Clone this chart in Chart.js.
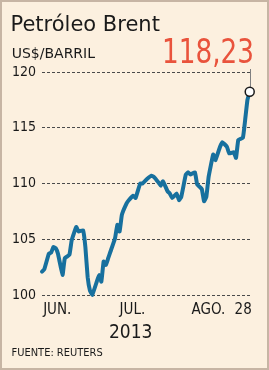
<!DOCTYPE html>
<html lang="es">
<head>
  <meta charset="UTF-8" />
  <title>Petróleo Brent</title>
  <script src="https://cdn.jsdelivr.net/npm/chart.js"></script>
  <style>
    body {
      margin: 0;
      background: #fcf0df;
    }

    .frame {
      position: relative;
      width: 269px;
      height: 370px;
      box-sizing: border-box;
      border: 2px solid #c7b5a4;
      background: #fcf0df;
      color: #1a1a1a;
      overflow: hidden;
    }

    .frame canvas {
      position: absolute;
      top: -2px;
      left: -2px;
    }

    .txt {
      position: absolute;
      line-height: 1;
      white-space: nowrap;
      margin: 0;
    }

    .title { font: 21px 'DejaVu Sans', sans-serif; top: 9.7px; left: 8.5px; }
    .unit { font: 14px 'DejaVu Sans', sans-serif; top: 42.7px; left: 9.7px; }
    .year { font: 19px 'DejaVu Sans Condensed', sans-serif; top: 317.9px; left: 107px; }
    .source { font: 11px 'DejaVu Sans Condensed', sans-serif; top: 343.7px; left: 9.5px; }
  </style>
</head>
<body>
  <div class="frame">
    <canvas id="brentChart" width="269" height="370"></canvas>
    <h1 class="txt title">Petróleo Brent</h1>
    <div class="txt unit">US$/BARRIL</div>
    <div class="txt year">2013</div>
    <div class="txt source">FUENTE: REUTERS</div>
  </div>

  <script>
    // days since 29 May 2013, and closing price (US$/barrel)
    const days = [0, 1, 3, 4, 5, 6, 7, 9, 10, 12, 13, 15, 16, 18, 19, 20, 21, 22, 24, 25,
                  26, 27, 28, 29, 30, 32, 33, 34, 35, 37, 38, 40, 41, 43, 44, 46, 48, 49, 51, 52,
                  53, 55, 56, 57, 59, 60, 61, 63, 64, 65, 67, 68, 70, 71, 72, 73, 75, 76, 78, 79,
                  81, 82, 84, 85, 86, 88, 89, 90, 91];
    const prices = [102.1, 102.3, 103.7, 103.8, 104.3, 104.2, 103.7, 101.8, 103.3, 103.6,
                    104.9, 106.1, 105.7, 105.8, 104.3, 101.6, 100.4, 100.0, 101.2, 101.8,
                    101.2, 103.0, 102.7, 103.3, 103.9, 105.1, 106.3, 105.7, 107.2, 108.2,
                    108.5, 108.9, 108.7, 110.0, 110.0, 110.4, 110.7, 110.6, 110.1, 109.8,
                    110.2, 109.3, 109.1, 108.7, 109.1, 108.5, 108.8, 110.8, 111.0, 110.8,
                    111.0, 109.9, 109.5, 108.4, 108.8, 110.6, 112.6, 112.1, 113.3, 113.7,
                    113.3, 112.7, 112.8, 112.3, 113.9, 114.1, 115.7, 117.5, 118.23];
    const monthLabels = ['JUN.', 'JUL.', 'AGO.'];
    const monthDays = [0.5, 34, 65.5];
    const endLabel = '28';
    const yTicks = [100, 105, 110, 115, 120];

    const last = prices.length - 1;

    // month names under the plot, leader line and the big last value
    const annotate = {
      id: 'annotate',
      beforeDatasetsDraw(chart) {
        const { ctx, scales: { x, y } } = chart;
        const px = Math.round(x.getPixelForValue(days[last])) + 0.5;
        ctx.save();
        ctx.strokeStyle = '#808080';
        ctx.lineWidth = 1;
        ctx.beginPath();
        ctx.moveTo(px, y.getPixelForValue(120) - 3);
        ctx.lineTo(px, y.getPixelForValue(prices[last]) - 4);
        ctx.stroke();
        ctx.restore();
      },
      afterDraw(chart) {
        const { ctx, scales: { x } } = chart;
        ctx.save();
        ctx.fillStyle = '#1a1a1a';
        ctx.font = '15px "DejaVu Sans Condensed"';
        ctx.textBaseline = 'alphabetic';
        ctx.textAlign = 'left';
        monthLabels.forEach((m, i) => {
          ctx.fillText(m, x.getPixelForValue(monthDays[i]), 314);
        });
        ctx.textAlign = 'right';
        ctx.fillText(endLabel, x.getPixelForValue(days[last]) + 2, 314);

        // big value
        const txt = prices[last].toFixed(2).replace('.', ',');
        ctx.translate(254, 63);
        ctx.scale(0.86, 1);
        ctx.fillStyle = '#e9533c';
        ctx.font = '34px "DejaVu Sans Condensed"';
        ctx.fillText(txt, 0, 0);
        ctx.restore();
      }
    };

    new Chart(document.getElementById('brentChart'), {
      type: 'line',
      data: {
        datasets: [{
          data: days.map((d, i) => ({ x: d, y: prices[i] })),
          borderColor: '#17709e',
          borderWidth: 4,
          borderJoinStyle: 'round',
          borderCapStyle: 'round',
          tension: 0.1,
          clip: false,
          pointRadius: c => c.dataIndex === last ? 4.5 : 0,
          pointBackgroundColor: '#ffffff',
          pointBorderColor: '#1a1a1a',
          pointBorderWidth: 1.5
        }]
      },
      options: {
        responsive: false,
        animation: false,
        layout: { padding: { left: 12, right: 17, top: 72, bottom: 75 } },
        plugins: { legend: { display: false }, tooltip: { enabled: false } },
        scales: {
          x: { type: 'linear', min: 0, max: 92, display: false },
          y: {
            min: 100,
            max: 120,
            afterBuildTicks: s => { s.ticks = yTicks.map(v => ({ value: v })); },
            afterFit: s => { s.width = 30; },
            ticks: {
              padding: 6,
              color: '#1a1a1a',
              font: { family: 'DejaVu Sans Condensed', size: 14 }
            },
            grid: { color: '#4a4a4a', lineWidth: 1, drawTicks: false },
            border: { display: false, dash: [3, 2] }
          }
        }
      },
      plugins: [annotate]
    });
  </script>
</body>
</html>
